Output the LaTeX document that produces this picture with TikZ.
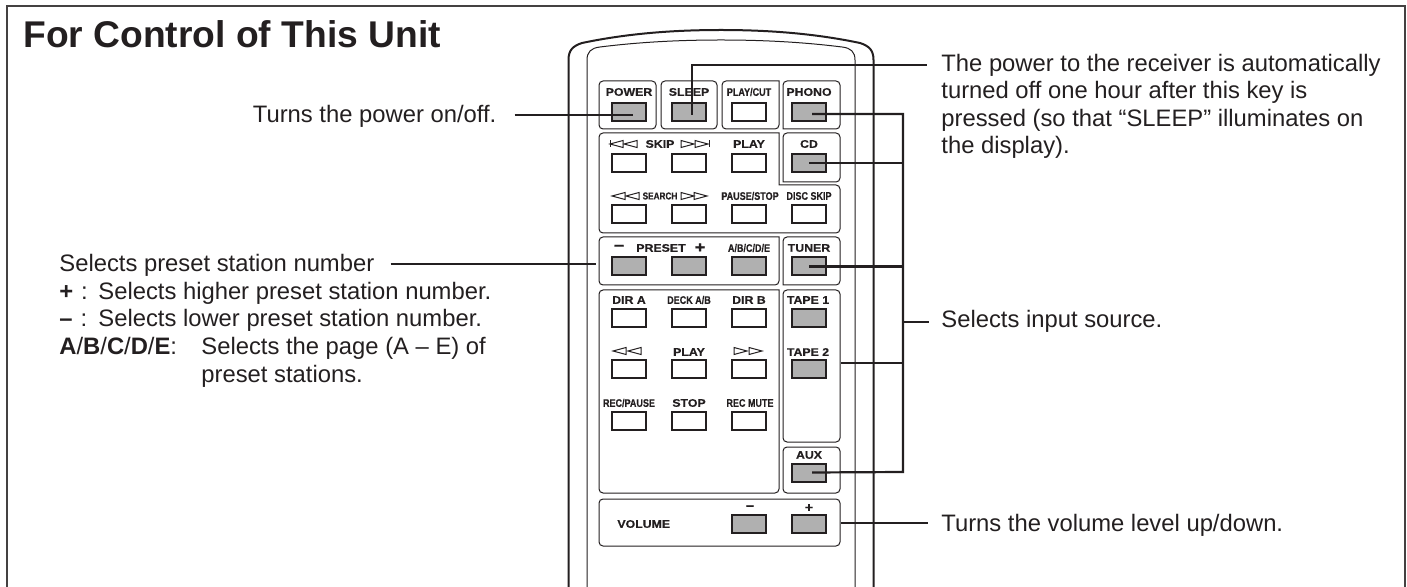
\documentclass[tikz,border=0pt]{standalone}
\usepackage{fontspec}
\setmainfont{Liberation Sans}
\newfontfamily\keywide[FakeStretch=1.12,FakeBold=0.4]{Liberation Sans Bold}
\newfontfamily\keynarrow[FakeStretch=0.82,FakeBold=0.4]{Liberation Sans Bold}
\usetikzlibrary{positioning,arrows.meta,calc}
\definecolor{InkDark}{RGB}{35,31,32}
\definecolor{KeyGray}{RGB}{176,176,176}

\begin{document}
\begin{tikzpicture}[
x=0.5pt,y=-0.5pt,
panel/.style={draw=InkDark,line width=0.5pt,rounded corners=2pt},
btn/.style={rectangle,draw=InkDark,line width=1pt,fill=white,inner sep=0pt,minimum width=17pt,minimum height=9pt},
on/.style={btn,fill=KeyGray},
klbl/.style={font=\keywide\fontsize{5.5}{6}\selectfont,text=InkDark,inner sep=0pt},
nlbl/.style={font=\keynarrow\fontsize{5.5}{6}\selectfont,text=InkDark,inner sep=0pt},
sgn/.style={font=\keywide\fontsize{8}{8}\selectfont,text=InkDark,inner sep=0pt},
tri/.style={draw=InkDark,line width=0.5pt},
lead/.style={draw=InkDark,line width=1.1pt},
txt/.style={font=\fontsize{11.9}{14}\selectfont,text=InkDark,anchor=base west,inner sep=0pt}
]
\useasboundingbox (0,0) rectangle (1407,587);
% frame, open at the bottom
\draw[draw=InkDark!85,line width=0.75pt] (7,587)--(7,6)--(1405,6)--(1405,587);
\node[font=\bfseries\fontsize{18.6}{20}\selectfont,text=InkDark,anchor=base west,inner sep=0pt] (title) at (23,48) {For Control of This Unit};
% remote body
\draw[draw=InkDark,line width=1pt] (568.5,587)--(568.5,60) .. controls (568.5,50) and (573,46) .. (582,43) .. controls (625,34) and (670,30) .. (721,30) .. controls (772,30) and (817,34) .. (860,43) .. controls (869,46) and (873.5,50) .. (873.5,60)--(873.5,587);
\draw[draw=InkDark,line width=0.5pt] (587,587)--(587,60) .. controls (587,52) and (591,48) .. (600,47) .. controls (640,42) and (680,40) .. (721,40) .. controls (762,40) and (802,42) .. (842,47) .. controls (851,48) and (855,52) .. (855,60)--(855,587);
% panels
\draw[panel] (599,81) rectangle (656,129);
\draw[panel] (661,81) rectangle (717,129);
\draw[panel] (779,81) -- (722,81) -- (722,129) -- (779,129) [sharp corners] -- cycle;
\draw[panel] (783,129) -- (840,129) -- (840,81) -- (783,81) [sharp corners] -- cycle;
\draw[panel] (779,133) -- (599,133) -- (599,233) -- (840,233) -- (840,185) [sharp corners] -- (779,185) -- cycle;
\draw[panel] (783,182) -- (840,182) -- (840,133) -- (783,133) [sharp corners] -- cycle;
\draw[panel] (779,237) -- (599,237) -- (599,285) -- (779,285) [sharp corners] -- cycle;
\draw[panel] (783,285) -- (840,285) -- (840,237) -- (783,237) [sharp corners] -- cycle;
\draw[panel] (779,290) -- (599,290) -- (599,493) -- (779,493) -- (779,400) [sharp corners] -- cycle;
\draw[panel] (783,400) -- (783,442) -- (840,442) -- (840,290) -- (783,290) [sharp corners] -- cycle;
\draw[panel] (783,447) rectangle (840,493);
\draw[panel] (599,499) rectangle (840,546);
% keys
\node[on] (bPower) at (629,112.5) {};
\node[on] (bSleep) at (689,112.5) {};
\node[btn] (bCut) at (749,112.5) {};
\node[on] (bPhono) at (809,112.5) {};
\node[btn] (bSkipL) at (629,163) {};
\node[btn] (bSkipR) at (689,163) {};
\node[btn] (bPlayA) at (749,163) {};
\node[on] (bCd) at (809,163) {};
\foreach \n/\cx in {bSrchL/629,bSrchR/689,bPause/749,bDisc/809}
  \node[btn] (\n) at (\cx,214.5) {};
\foreach \n/\cx in {bMinus/629,bPlus/689,bPage/749,bTuner/809}
  \node[on] (\n) at (\cx,266.5) {};
\foreach \n/\cx in {bDirA/629,bDeck/689,bDirB/749}
  \node[btn] (\n) at (\cx,318) {};
\foreach \n/\cx in {bRew/629,bPlayB/689,bFf/749}
  \node[btn] (\n) at (\cx,369.5) {};
\foreach \n/\cx in {bRec/629,bStop/689,bMute/749}
  \node[btn] (\n) at (\cx,421) {};
\node[on] (bTapeA) at (809,318) {};
\node[on] (bTapeB) at (809,369.5) {};
\node[on] (bAux) at (809,472.5) {};
\node[on] (bVolDn) at (749,523.5) {};
\node[on] (bVolUp) at (809,523.5) {};
% key labels
\node[klbl] (lPower) at (629,92) {POWER};
\node[klbl] (lSleep) at (689,92) {SLEEP};
\node[nlbl] (lCut) at (749,92) {PLAY/CUT};
\node[klbl] (lPhono) at (809,92) {PHONO};
\node[klbl] (lSkip) at (660,144) {SKIP};
\node[klbl] (lPlayA) at (749,144) {PLAY};
\node[klbl] (lCd) at (809,144) {CD};
\node[nlbl,font=\keynarrow\fontsize{5}{6}\selectfont] (lSrch) at (660,196) {SEARCH};
\node[nlbl] (lPause) at (750,196) {PAUSE/STOP};
\node[nlbl] (lDisc) at (809,196) {DISC SKIP};
\node[klbl] (lPreset) at (661,248) {PRESET};
\node[sgn] (lMinus) at (619,248) {\textminus};
\node[sgn] (lPlus) at (700,248) {+};
\node[nlbl] (lPage) at (749,248) {A/B/C/D/E};
\node[klbl] (lTuner) at (809,248) {TUNER};
\node[klbl] (lDirA) at (629,300) {DIR A};
\node[nlbl] (lDeck) at (689,300) {DECK A/B};
\node[klbl] (lDirB) at (749,300) {DIR B};
\node[klbl] (lTapeA) at (808,300) {TAPE 1};
\node[klbl] (lPlayB) at (689,352) {PLAY};
\node[klbl] (lTapeB) at (808,352) {TAPE 2};
\node[nlbl] (lRec) at (629,403) {REC/PAUSE};
\node[klbl] (lStop) at (689,403) {STOP};
\node[nlbl] (lMute) at (750,403) {REC MUTE};
\node[klbl] (lAux) at (809,455) {AUX};
\node[klbl,anchor=west] (lVol) at (617,524) {VOLUME};
\node[sgn,font=\keywide\fontsize{6.5}{8}\selectfont] (lVolDn) at (750,508) {\textminus};
\node[sgn,font=\keywide\fontsize{6.5}{8}\selectfont] (lVolUp) at (809,508) {+};
% transport marks
\foreach \tx/\ty in {610/144,624/144,612/196,626/196,613/351,628/351}
  \draw[tri] (\tx,\ty) -- ++(13,-3.5) -- ++(0,7) -- cycle;
\foreach \tx/\ty in {681/144,695/144,681/196,694/196,734/351,749/351}
  \draw[tri] (\tx,\ty) ++(13,0) -- ++(-13,-3.5) -- ++(0,7) -- cycle;
\draw[tri] (610,140.5) -- (610,147.5);
\draw[tri] (709,140.5) -- (709,147.5);
% texts
\node[txt] (tPower) at (252.5,123) {Turns the power on/off.};
\node[txt] (tPreset) at (59,272) {Selects preset station number};
\node[txt] (tPlus) at (59,299.5) {\textbf{+}\,\,:};
\node[txt] (tPlusB) at (98,299.5) {Selects higher preset station number.};
\node[txt] (tMinus) at (59,327) {\textbf{--}\,\,:};
\node[txt] (tMinusB) at (98,327) {Selects lower preset station number.};
\node[txt] (tPage) at (59,354.5) {\textbf{A}/\textbf{B}/\textbf{C}/\textbf{D}/\textbf{E}:};
\node[txt] (tPageB) at (201,354.5) {Selects the page (A -- E) of};
\node[txt] (tPageC) at (201,382) {preset stations.};
\node[txt] (tSleep) at (941,71.5) {The power to the receiver is automatically};
\node[txt] (tSleepB) at (941,99) {turned off one hour after this key is};
\node[txt] (tSleepC) at (941,126.5) {pressed (so that “SLEEP” illuminates on};
\node[txt] (tSleepD) at (941,154) {the display).};
\node[txt] (tInput) at (941,328) {Selects input source.};
\node[txt] (tVol) at (941,531.5) {Turns the volume level up/down.};
% leader lines
\coordinate (busTop) at (903,114);
\coordinate (busBot) at (903,472);
\coordinate (busIn) at (903,322);
\coordinate (tapeEdge) at (841,363);
\coordinate (volEdge) at (841,523);
\coordinate (sleepEnd) at (927,65);
\coordinate (powerTip) at (633,115);
\coordinate (presetTip) at (596,264);
\draw[lead] ([xshift=9pt]powerTip -| tPower.east) -- (powerTip);
\draw[lead] ([xshift=8pt]presetTip -| tPreset.east) -- (presetTip);
\draw[lead] ([shift={(3,2.5)}]bSleep.center) |- (sleepEnd);
\draw[lead] ([shift={(3,1.5)}]bPhono.center) -- (busTop) -- (busBot) -- ([shift={(3,0)}]bAux.center);
\draw[lead] (bCd.center) -- (bCd.center -| busTop);
\draw[lead] (bTuner.center) -- (bTuner.center -| busTop);
\draw[lead] (tapeEdge) -- (tapeEdge -| busTop);
\draw[lead] (busIn) -- ([xshift=-6pt]busIn -| tInput.west);
\draw[lead] (volEdge) -- ([xshift=-6.5pt]volEdge -| tVol.west);
\end{tikzpicture}
\end{document}
